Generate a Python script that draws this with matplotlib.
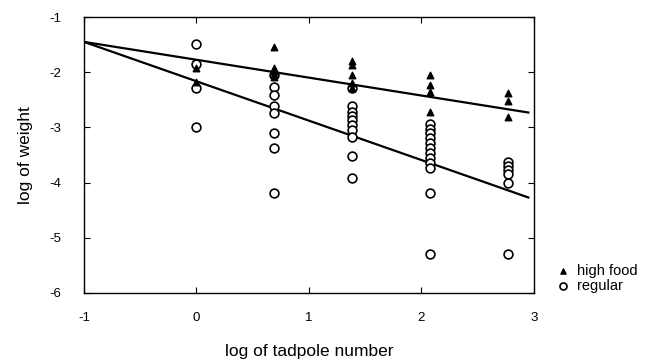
import numpy as np
import matplotlib
matplotlib.use("Agg")
import matplotlib.pyplot as plt

plt.rcParams["font.family"] = ["Liberation Sans", "DejaVu Sans"]
plt.rcParams["axes.unicode_minus"] = False

# log of tadpole number for each density (1, 2, 4, 8, 16 tadpoles)
density_x = [0.0, 0.693, 1.386, 2.079, 2.773]

# log of weight, high food treatment
high_food = [
    [-1.93, -2.17],
    [-1.55, -1.92, -1.98, -2.03, -2.08],
    [-1.79, -1.87, -2.05, -2.20, -2.29],
    [-2.05, -2.23, -2.35, -2.72],
    [-2.37, -2.52, -2.81],
]

# log of weight, regular food treatment
regular = [
    [-1.48, -1.85, -2.29, -2.99],
    [-2.05, -2.26, -2.41, -2.61, -2.74, -3.11, -3.38, -4.19],
    [-2.29, -2.62, -2.72, -2.79, -2.87, -2.96, -3.05, -3.17, -3.52, -3.92],
    [-2.93, -3.02, -3.11, -3.20, -3.29, -3.38, -3.47, -3.56, -3.65, -3.74,
     -4.19, -5.29],
    [-3.62, -3.70, -3.77, -3.85, -4.00, -5.29],
]

# fitted regression lines: (intercept at x=-1, end value at x=2.95)
line_x = [-1.0, 2.95]
high_line_y = [-1.45, -2.73]
regular_line_y = [-1.45, -4.27]


def flatten(groups):
    xs, ys = [], []
    for x, vals in zip(density_x, groups):
        xs.extend([x] * len(vals))
        ys.extend(vals)
    return xs, ys


fig = plt.figure(figsize=(6.56, 3.63), dpi=100)
ax = fig.add_axes([0.128, 0.193, 0.686, 0.76])

ax.plot(line_x, high_line_y, color="black", lw=1.6, zorder=2)
ax.plot(line_x, regular_line_y, color="black", lw=1.6, zorder=2)

rx, ry = flatten(regular)
ax.scatter(rx, ry, s=40, facecolors="white", edgecolors="black",
           linewidths=1.2, zorder=3, label="regular")
hx, hy = flatten(high_food)
ax.scatter(hx, hy, s=22, marker="^", color="black", zorder=4,
           label="high food")

ax.set_xlim(-1, 3)
ax.set_ylim(-6, -1)
ax.set_xticks([-1, 0, 1, 2, 3])
ax.set_yticks([-6, -5, -4, -3, -2, -1])
ax.tick_params(direction="in", top=True, right=True, length=4,
               labelsize=9.5)
ax.yaxis.set_tick_params(pad=16)
ax.xaxis.set_tick_params(pad=14)
for s in ax.spines.values():
    s.set_linewidth(1.0)

ax.set_xlabel("log of tadpole number", fontsize=12.5, labelpad=14)
ax.set_ylabel("log of weight", fontsize=12.5, labelpad=12)

handles, labels = ax.get_legend_handles_labels()
ax.legend(handles[::-1], labels[::-1], loc="lower left",
          bbox_to_anchor=(1.035, -0.02), frameon=False, fontsize=10.5,
          handletextpad=0.45, borderaxespad=0, labelspacing=0.05,
          handlelength=1.0, markerscale=0.8)

fig.savefig("out.png", dpi=100)
